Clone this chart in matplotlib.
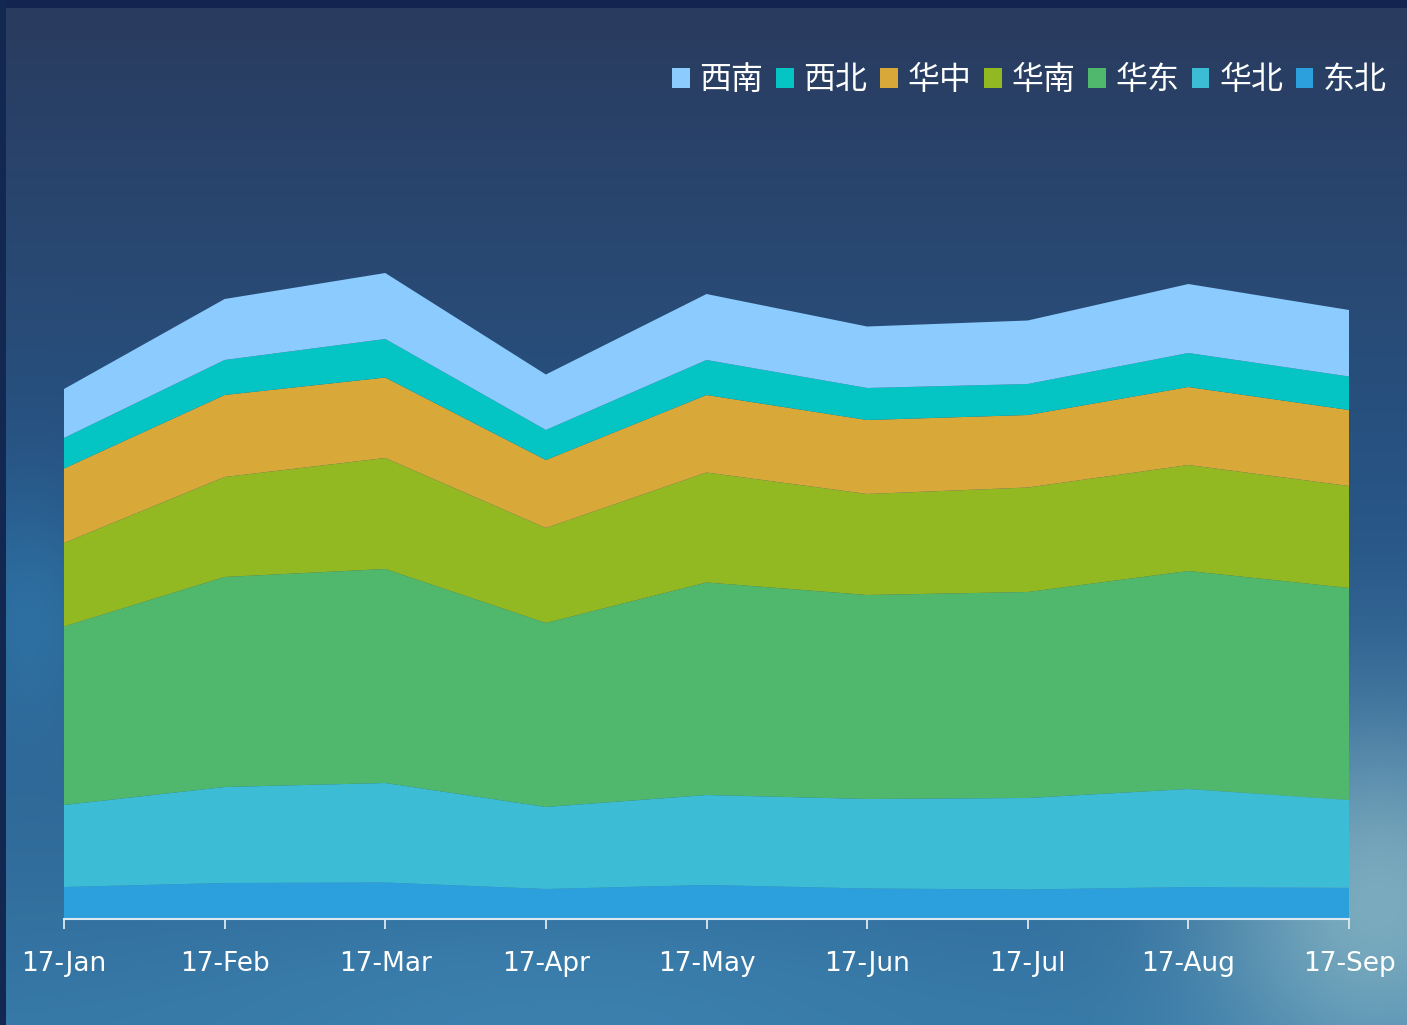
import numpy as np
import matplotlib
matplotlib.use("Agg")
import matplotlib.pyplot as plt
from matplotlib.patches import Patch

plt.rcParams['font.family'] = ['Noto Sans CJK SC', 'DejaVu Sans']

months = ["17-Jan", "17-Feb", "17-Mar", "17-Apr", "17-May",
          "17-Jun", "17-Jul", "17-Aug", "17-Sep"]

# stacked from bottom to top
dongbei = [31, 35, 35.5, 29, 33, 29.5, 28.5, 31, 30.5]       # 东北
huabei = [82, 96, 99.5, 82, 90, 89.5, 91.5, 98, 87.5]        # 华北
huadong = [178.5, 210, 214, 184, 212.5, 204, 206, 218, 212]  # 华东
huanan = [83.5, 100, 111, 95, 110, 101, 104.5, 106, 102]     # 华南
huazhong = [74.5, 82, 80.5, 68, 77.5, 74, 72.5, 78, 76]      # 华中
xibei = [30.5, 35, 38.5, 30, 35, 32, 31, 34, 33.5]           # 西北
xinan = [49, 61, 66, 55.5, 66, 61.5, 63.5, 69, 66.5]         # 西南

series = [dongbei, huabei, huadong, huanan, huazhong, xibei, xinan]
names = ["东北", "华北", "华东", "华南", "华中", "西北", "西南"]
colors = ["#2ba0dd", "#3dbcd6", "#50b86c", "#92b822", "#d8a838", "#05c5c4", "#8bcbfd"]

W, H = 1407, 1025
fig = plt.figure(figsize=(W / 100, H / 100), dpi=100)

# background picture (approximate the blue sky texture)
bg = fig.add_axes([0, 0, 1, 1])
yy, xx = np.mgrid[0:1:H * 1j, 0:1:W * 1j]
top = np.array([0x2a, 0x3b, 0x5e]) / 255
mid = np.array([0x27, 0x55, 0x86]) / 255
low = np.array([0x36, 0x78, 0xa6]) / 255
t = yy[..., None]
img = np.where(t < 0.5, top + (mid - top) * (t / 0.5), mid + (low - mid) * ((t - 0.5) / 0.5))
glow = np.exp(-(((xx - 0.98) / 0.12) ** 2 + ((yy - 0.88) / 0.18) ** 2))[..., None]
img = img * (1 - glow * 0.7) + np.array([0.60, 0.77, 0.80]) * glow * 0.7
glow2 = np.exp(-(((xx - 0.02) / 0.05) ** 2 + ((yy - 0.60) / 0.12) ** 2))[..., None]
img = img * (1 - glow2 * 0.4) + np.array([0.20, 0.55, 0.75]) * glow2 * 0.4
glow3 = np.exp(-(((xx - 0.40) / 0.25) ** 2 + ((yy - 0.98) / 0.10) ** 2))[..., None]
img = img * (1 - glow3 * 0.25) + np.array([0.30, 0.60, 0.78]) * glow3 * 0.25
img[:8, :, :] = np.array([0x13, 0x24, 0x50]) / 255
img[:, :6, :] = np.array([0x12, 0x28, 0x50]) / 255
bg.imshow(np.clip(img, 0, 1), aspect='auto', extent=[0, 1, 0, 1])
bg.axis('off')

x0, x1 = 64 / W, 1349 / W
base = 919
y0 = (H - base) / H
ytop = 30
ax = fig.add_axes([x0, y0, x1 - x0, (base - ytop) / H])
ax.patch.set_alpha(0)
x = np.arange(len(months))
ax.stackplot(x, *series, colors=colors, linewidth=0)
ax.set_xlim(0, len(months) - 1)
ax.set_ylim(-1, base - ytop - 1)

for s in ['top', 'right', 'left']:
    ax.spines[s].set_visible(False)
ax.spines['bottom'].set_color('#dde8f0')
ax.spines['bottom'].set_linewidth(1.5)
ax.spines['bottom'].set_position(('data', -1))
ax.set_yticks([])
ax.set_xticks(x)
ax.set_xticklabels(months, color='white', fontsize=19,
                   family=['Liberation Sans Narrow', 'DejaVu Sans'])
ax.tick_params(axis='x', direction='out', length=7, width=1.3,
               color='#dde8f0', pad=16)
for lbl in ax.get_xticklabels():
    lbl.set_clip_on(False)

handles = [Patch(facecolor=c, edgecolor='none') for c in colors[::-1]]
leg = fig.legend(handles, names[::-1], ncol=7, loc='center right',
                 bbox_to_anchor=(1387 / W, 1 - 80 / H), frameon=False,
                 fontsize=23, handlelength=0.55, handleheight=0.6,
                 handletextpad=0.3, columnspacing=0.4, borderaxespad=0,
                 borderpad=0)
for txt in leg.get_texts():
    txt.set_color('white')

fig.savefig("out.png", dpi=100)
